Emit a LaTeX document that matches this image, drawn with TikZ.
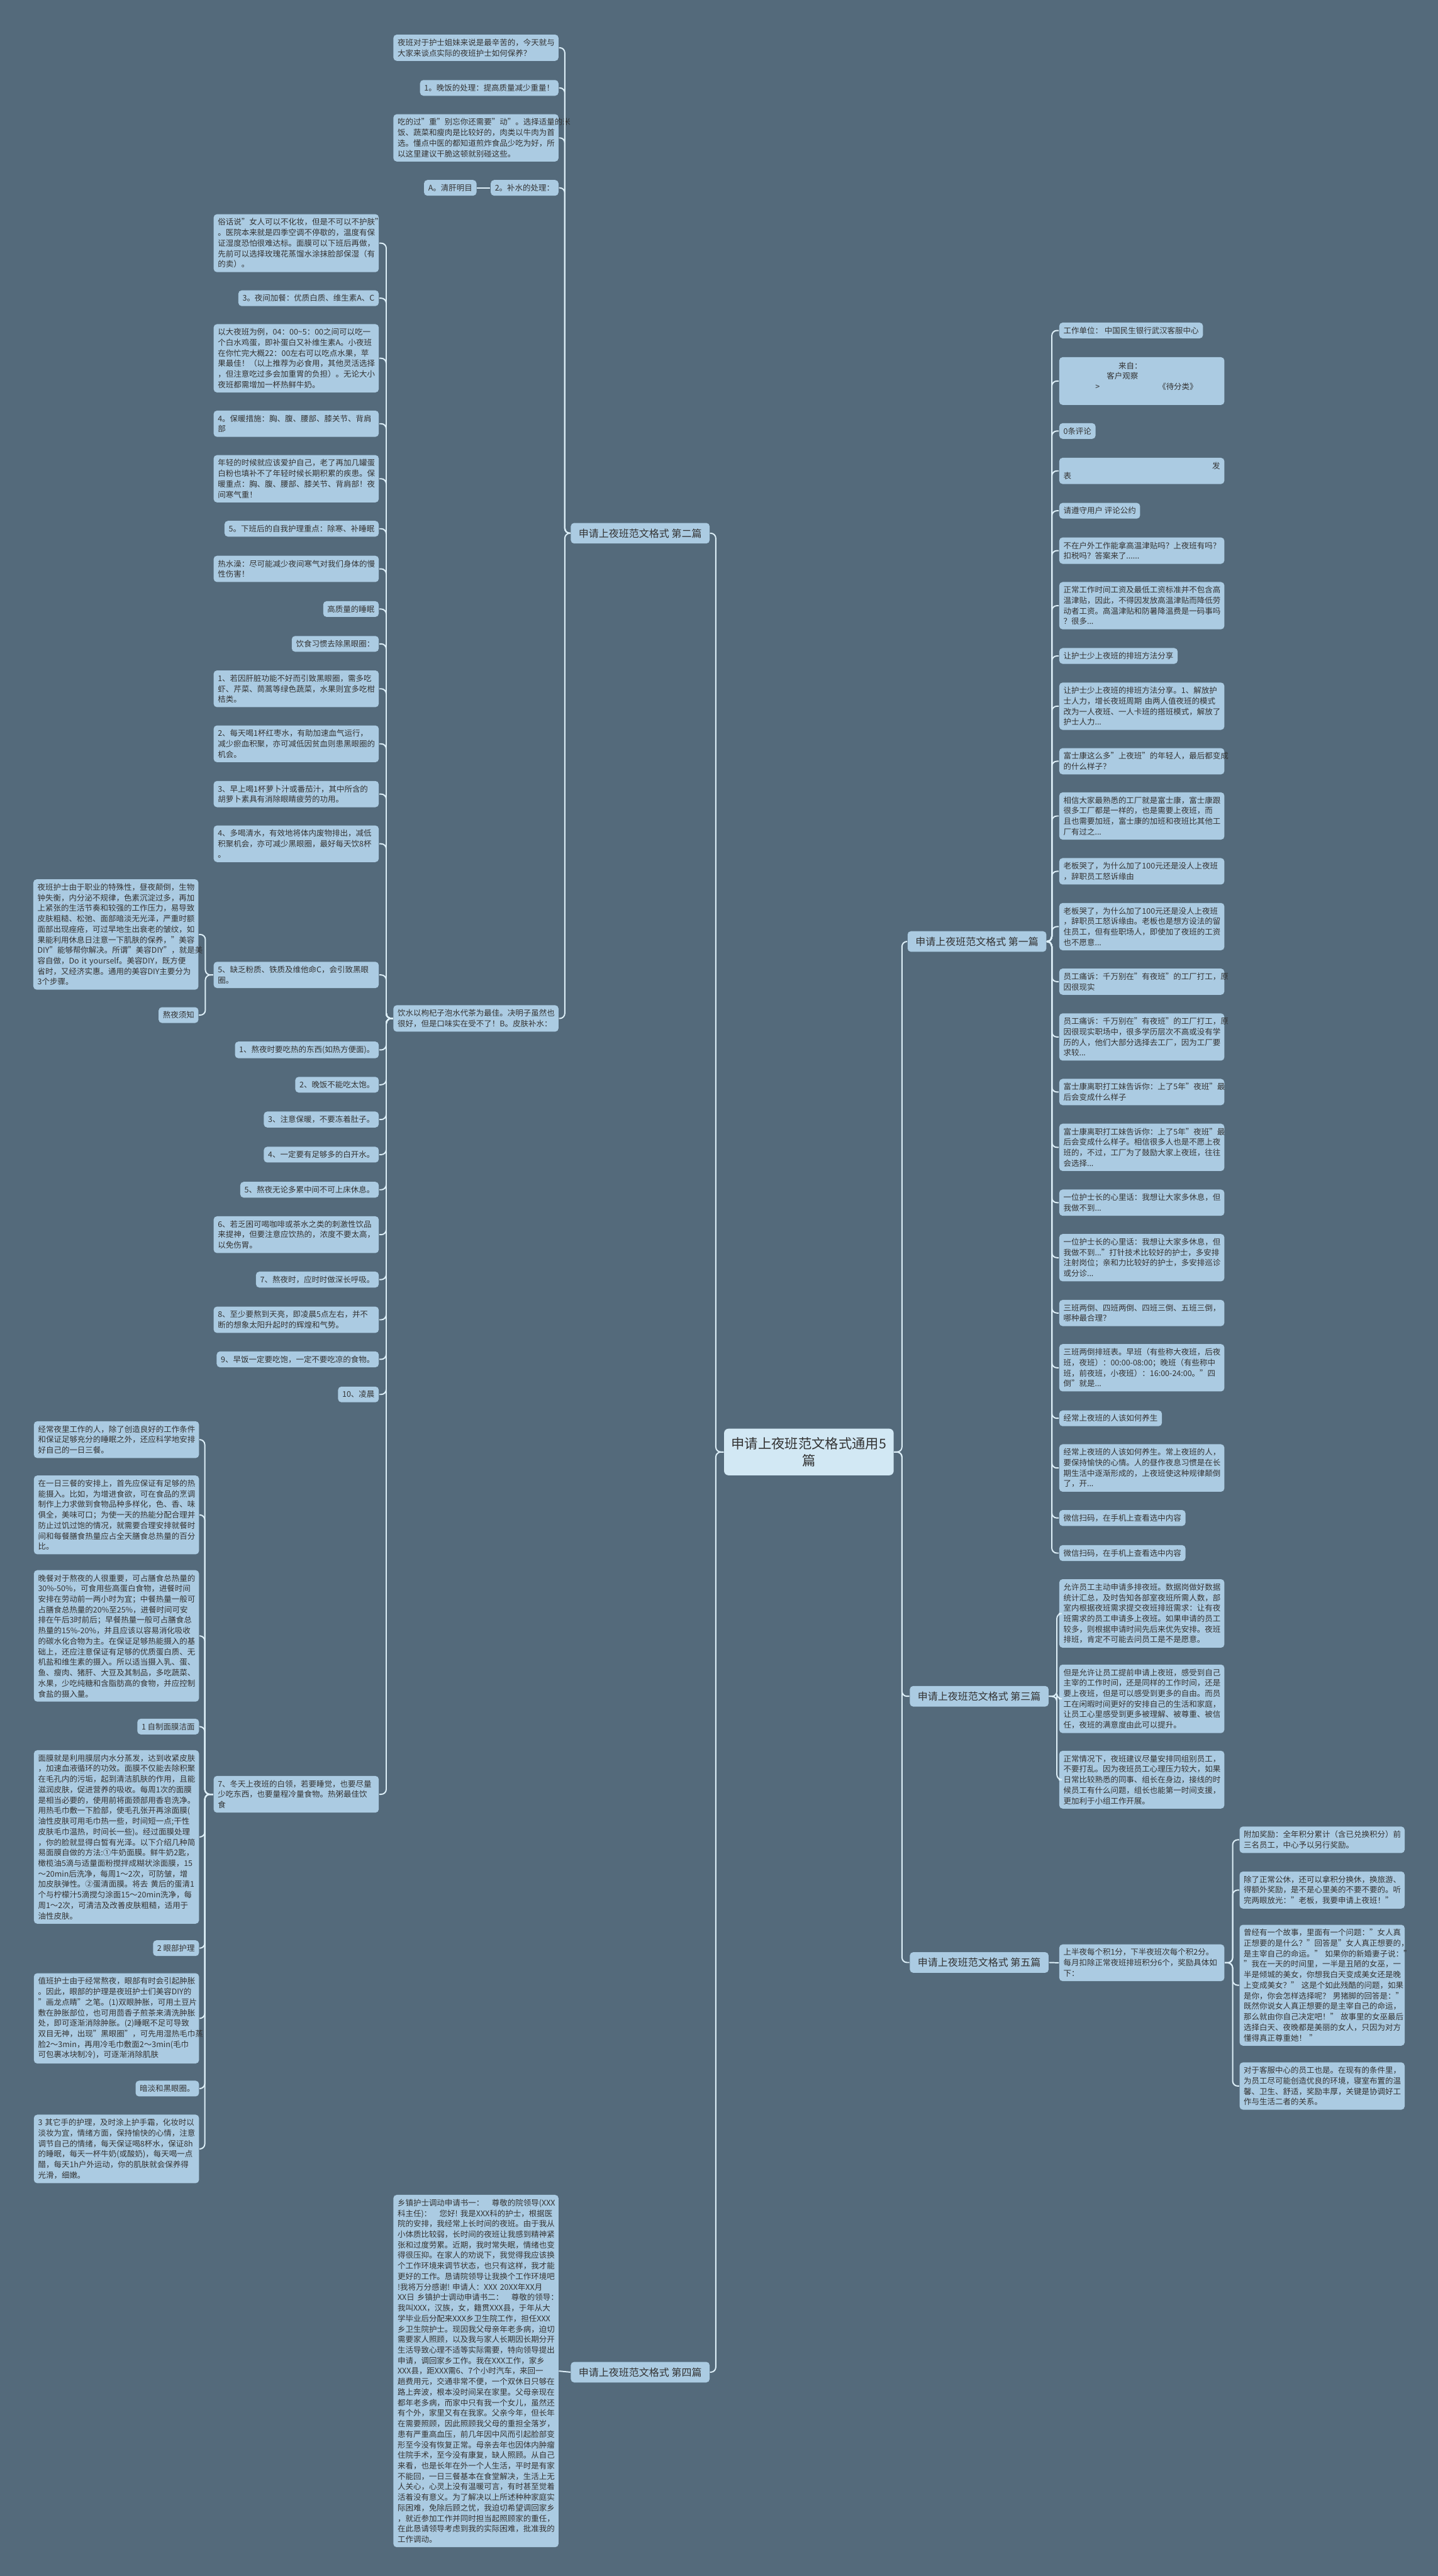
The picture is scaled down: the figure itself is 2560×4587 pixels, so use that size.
\documentclass[tikz,border=0pt]{standalone}
\usepackage{fontspec}
\setmainfont{Noto Sans CJK SC}
\usepackage{tikz}
\definecolor{slate}{HTML}{546A7B}
\definecolor{leafblue}{HTML}{ABCBE2}
\definecolor{rootblue}{HTML}{D2E8F4}
\definecolor{linkwhite}{HTML}{DDEFF8}
\definecolor{ink}{HTML}{333333}

\begin{document}
\begin{tikzpicture}[x=0.1mm,y=-0.1mm,
	leaf/.style={fill=leafblue,rounded corners=0.6mm,inner xsep=0.75mm,inner ysep=0.75mm,text=ink,align=left,font=\fontsize{3.98}{5.33}\selectfont},
	wide/.style={leaf,text width=27.9mm},
	branch/.style={fill=leafblue,rounded corners=0.6mm,inner xsep=1.4mm,inner ysep=1mm,text=ink,font=\fontsize{5.1}{6.5}\selectfont},
	root/.style={fill=rootblue,rounded corners=0.8mm,inner xsep=0.8mm,inner ysep=1.5mm,text=ink,text width=28.6mm,align=center,font=\fontsize{6.8}{8.8}\selectfont},
	link/.style={draw=linkwhite,line width=0.22mm,rounded corners=0.9mm}]
		\useasboundingbox (0,0) rectangle (2560,4587);
		\fill[slate] (0,0) rectangle (2560,4587);
		%\node[root] (name) at (x,y) {texte};
		\node[root] (Root) at (1440,2585.5) {申请上夜班范文格式通用5\\篇};
		\node[branch,anchor=east] (PartTwo) at (1264,949.5) {申请上夜班范文格式 第二篇};
		\node[branch,anchor=east] (PartFour) at (1264,4224) {申请上夜班范文格式 第四篇};
		\node[branch,anchor=west] (PartOne) at (1615,1676.5) {申请上夜班范文格式 第一篇};
		\node[branch,anchor=west] (PartThree) at (1619,3020.5) {申请上夜班范文格式 第三篇};
		\node[branch,anchor=west] (PartFive) at (1619,3494.5) {申请上夜班范文格式 第五篇};
		% second part
		\node[wide,anchor=east] (Intro) at (995,85) {夜班对于护士姐妹来说是最辛苦的，今天就与\\大家来谈点实际的夜班护士如何保养？};
		\node[leaf,anchor=east] (Supper) at (995,156.5) {1。晚饭的处理：提高质量减少重量！};
		\node[wide,anchor=east] (Move) at (995,245.5) {吃的过"重"别忘你还需要"动"。选择适量的米\\饭、蔬菜和瘦肉是比较好的，肉类以牛肉为首\\选。懂点中医的都知道煎炸食品少吃为好，所\\以这里建议干脆这顿就别碰这些。};
		\node[leaf,anchor=east] (Water) at (995,334.5) {2。补水的处理：};
		\node[leaf,anchor=east] (Liver) at (849,334.5) {A。清肝明目};
		\node[wide,anchor=east] (Tea) at (995,1813.5) {饮水以枸杞子泡水代茶为最佳。决明子虽然也\\很好，但是口味实在受不了！B。皮肤补水：};
		\node[wide,anchor=east] (Skin) at (675,433) {俗话说"女人可以不化妆，但是不可以不护肤"\\。医院本来就是四季空调不停歇的，温度有保\\证湿度恐怕很难达标。面膜可以下班后再做，\\先前可以选择玫瑰花蒸馏水涂抹脸部保湿（有\\的卖）。};
		\node[leaf,anchor=east] (Snack) at (675,531) {3。夜间加餐：优质白质、维生素A、C};
		\node[wide,anchor=east] (Egg) at (675,638) {以大夜班为例，04：00\textasciitilde5：00之间可以吃一\\个白水鸡蛋，即补蛋白又补维生素A。小夜班\\在你忙完大概22：00左右可以吃点水果，苹\\果最佳！（以上推荐为必食用，其他灵活选择\\，但注意吃过多会加重胃的负担）。无论大小\\夜班都需增加一杯热鲜牛奶。};
		\node[wide,anchor=east] (Warm) at (675,754.5) {4。保暖措施：胸、腹、腰部、膝关节、背肩\\部};
		\node[wide,anchor=east] (Young) at (675,852.5) {年轻的时候就应该爱护自己，老了再加几罐蛋\\白粉也填补不了年轻时候长期积累的疾患。保\\暖重点：胸、腹、腰部、膝关节、背肩部！夜\\间寒气重！};
		\node[leaf,anchor=east] (AfterWork) at (675,941.5) {5。下班后的自我护理重点：除寒、补睡眠};
		\node[wide,anchor=east] (Bath) at (675,1013) {热水澡：尽可能减少夜间寒气对我们身体的慢\\性伤害！};
		\node[leaf,anchor=east] (Sleep) at (675,1084.5) {高质量的睡眠};
		\node[leaf,anchor=east] (DarkCircle) at (675,1146.5) {饮食习惯去除黑眼圈：};
		\node[wide,anchor=east] (TipOne) at (675,1226.5) {1、若因肝脏功能不好而引致黑眼圈，需多吃\\虾、芹菜、茼蒿等绿色蔬菜，水果则宜多吃柑\\桔类。};
		\node[wide,anchor=east] (TipTwo) at (675,1324.5) {2、每天喝1杯红枣水，有助加速血气运行，\\减少瘀血积聚，亦可减低因贫血则患黑眼圈的\\机会。};
		\node[wide,anchor=east] (TipThree) at (675,1414) {3、早上喝1杯萝卜汁或番茄汁，其中所含的\\胡萝卜素具有消除眼睛疲劳的功用。};
		\node[wide,anchor=east] (TipFour) at (675,1502.5) {4、多喝清水，有效地将体内废物排出，减低\\积聚机会，亦可减少黑眼圈，最好每天饮8杯\\。};
		\node[wide,anchor=east] (TipFive) at (675,1736) {5、缺乏粉质、铁质及维他命C，会引致黑眼\\圈。};
		\node[wide,anchor=east] (Beauty) at (354,1664) {夜班护士由于职业的特殊性，昼夜颠倒，生物\\钟失衡，内分泌不规律，色素沉淀过多，再加\\上紧张的生活节奏和较强的工作压力，易导致\\皮肤粗糙、松弛、面部暗淡无光泽，严重时额\\面部出现痤疮，可过早地生出衰老的皱纹，如\\果能利用休息日注意一下肌肤的保养，"美容\\DIY"能够帮你解决。所谓"美容DIY"，就是美\\容自做，Do~it~yourself。美容DIY，既方便\\省时，又经济实惠。通用的美容DIY主要分为\\3个步骤。};
		\node[leaf,anchor=east] (Notice) at (354,1807.5) {熬夜须知};
		\node[leaf,anchor=east] (NightOne) at (675,1869.5) {1、熬夜时要吃热的东西(如热方便面)。};
		\node[leaf,anchor=east] (NightTwo) at (675,1931.5) {2、晚饭不能吃太饱。};
		\node[leaf,anchor=east] (NightThree) at (675,1993.5) {3、注意保暖，不要冻着肚子。};
		\node[leaf,anchor=east] (NightFour) at (675,2056) {4、一定要有足够多的白开水。};
		\node[leaf,anchor=east] (NightFive) at (675,2118.5) {5、熬夜无论多累中间不可上床休息。};
		\node[wide,anchor=east] (NightSix) at (675,2198.5) {6、若乏困可喝咖啡或茶水之类的刺激性饮品\\来提神，但要注意应饮热的，浓度不要太高，\\以免伤胃。};
		\node[leaf,anchor=east] (NightSeven) at (675,2278.5) {7、熬夜时，应时时做深长呼吸。};
		\node[wide,anchor=east] (NightEight) at (675,2350) {8、至少要熬到天亮，即凌晨5点左右，并不\\断的想象太阳升起时的辉煌和气势。};
		\node[leaf,anchor=east] (NightNine) at (675,2420.5) {9、早饭一定要吃饱，一定不要吃凉的食物。};
		\node[leaf,anchor=east] (NightTen) at (675,2483) {10、凌晨};
		\node[wide,anchor=east] (WhiteCollar) at (675,3195) {7、冬天上夜班的白领，若要睡觉，也要尽量\\少吃东西，也要量程冷量食物。热粥最佳饮\\食};
		\node[wide,anchor=east] (Meals) at (355,2563.5) {经常夜里工作的人，除了创造良好的工作条件\\和保证足够充分的睡眠之外，还应科学地安排\\好自己的一日三餐。};
		\node[wide,anchor=east] (Calories) at (355,2697.5) {在一日三餐的安排上，首先应保证有足够的热\\能摄入。比如，为增进食欲，可在食品的烹调\\制作上力求做到食物品种多样化，色、香、味\\俱全，美味可口；为使一天的热能分配合理并\\防止过饥过饱的情况，就需要合理安排就餐时\\间和每餐膳食热量应占全天膳食总热量的百分\\比。};
		\node[wide,anchor=east] (Dinner) at (355,2913) {晚餐对于熬夜的人很重要，可占膳食总热量的\\30\%-50\%，可食用些高蛋白食物，进餐时间\\安排在劳动前一两小时为宜；中餐热量一般可\\占膳食总热量的20\%至25\%，进餐时间可安\\排在午后3时前后；早餐热量一般可占膳食总\\热量的15\%-20\%，并且应该以容易消化吸收\\的碳水化合物为主。在保证足够热能摄入的基\\础上，还应注意保证有足够的优质蛋白质、无\\机盐和维生素的摄入。所以适当摄入乳、蛋、\\鱼、瘦肉、猪肝、大豆及其制品，多吃蔬菜、\\水果，少吃纯糖和含脂肪高的食物，并应控制\\食盐的摄入量。};
		\node[leaf,anchor=east] (MaskTitle) at (355,3074.5) {1 自制面膜洁面};
		\node[wide,anchor=east] (Mask) at (355,3271) {面膜就是利用膜层内水分蒸发，达到收紧皮肤\\，加速血液循环的功效。面膜不仅能去除积聚\\在毛孔内的污垢，起到清洁肌肤的作用，且能\\滋润皮肤，促进营养的吸收。每周1次的面膜\\是相当必要的，使用前将面颈部用香皂洗净。\\用热毛巾敷一下脸部，使毛孔张开再涂面膜(\\油性皮肤可用毛巾热一些，时间短一点;干性\\皮肤毛巾温热，时间长一些)。经过面膜处理\\，你的脸就显得白皙有光泽。以下介绍几种简\\易面膜自做的方法:①牛奶面膜。鲜牛奶2匙，\\橄榄油5滴与适量面粉搅拌成糊状涂面膜，15\\～20min后洗净，每周1～2次，可防皱，增\\加皮肤弹性。②蛋清面膜。将去~黄后的蛋清1\\个与柠檬汁5滴搅匀涂面15～20min洗净，每\\周1～2次，可清洁及改善皮肤粗糙，适用于\\油性皮肤。};
		\node[leaf,anchor=east] (EyeTitle) at (355,3469) {2 眼部护理};
		\node[wide,anchor=east] (Eye) at (355,3594) {值班护士由于经常熬夜，眼部有时会引起肿胀\\。因此，眼部的护理是夜班护士们美容DIY的\\"画龙点睛"之笔。(1)双眼肿胀，可用土豆片\\敷在肿胀部位，也可用茴香子煎茶来清洗肿胀\\处，即可逐渐消除肿胀。(2)睡眠不足可导致\\双目无神，出现"黑眼圈"，可先用湿热毛巾蒸\\脸2～3min，再用冷毛巾敷面2～3min(毛巾\\可包裹冰块制冷)，可逐渐消除肌肤};
		\node[leaf,anchor=east] (Dull) at (355,3719) {暗淡和黑眼圈。};
		\node[wide,anchor=east] (Hands) at (355,3826.5) {3 其它手的护理，及时涂上护手霜，化妆时以\\淡妆为宜，情绪方面，保持愉快的心情，注意\\调节自己的情绪，每天保证喝8杯水，保证8h\\的睡眠，每天一杯牛奶(或酸奶)，每天喝一点\\醋，每天1h户外运动，你的肌肤就会保养得\\光滑，细嫩。};
		% fourth part
		\node[wide,anchor=east] (Transfer) at (995,4222) {乡镇护士调动申请书一：　尊敬的院领导(XXX\\科主任)：　您好!~我是XXX科的护士，根据医\\院的安排，我经常上长时间的夜班。由于我从\\小体质比较弱，长时间的夜班让我感到精神紧\\张和过度劳累。近期，我时常失眠，情绪也变\\得很压抑。在家人的劝说下，我觉得我应该换\\个工作环境来调节状态，也只有这样，我才能\\更好的工作。恳请院领导让我换个工作环境吧\\!我将万分感谢!~申请人：XXX~20XX年XX月\\XX日~乡镇护士调动申请书二：　尊敬的领导：\\我叫XXX，汉族，女，籍贯XXX县，于年从大\\学毕业后分配来XXX乡卫生院工作，担任XXX\\乡卫生院护士。现因我父母亲年老多病，迫切\\需要家人照顾，以及我与家人长期因长期分开\\生活导致心理不适等实际需要，特向领导提出\\申请，调回家乡工作。我在XXX工作，家乡\\XXX县，距XXX需6、7个小时汽车，来回一\\趟费用元，交通非常不便，一个双休日只够在\\路上奔波，根本没时间呆在家里。父母亲现在\\都年老多病，而家中只有我一个女儿，虽然还\\有个外，家里又有在我家。父亲今年，但长年\\在需要照顾，因此照顾我父母的重担全落岁，\\患有严重高血压，前几年因中风而引起脸部变\\形至今没有恢复正常。母亲去年也因体内肿瘤\\住院手术，至今没有康复，缺人照顾。从自己\\来看，也是长年在外一个人生活，平时是有家\\不能回，一日三餐基本在食堂解决，生活上无\\人关心，心灵上没有温暖可言，有时甚至觉着\\活着没有意义。为了解决以上所述种种家庭实\\际困难，免除后顾之忧，我迫切希望调回家乡\\，就近参加工作并同时担当起照顾家的重任，\\在此恳请领导考虑到我的实际困难，批准我的\\工作调动。};
		% first part
		\node[leaf,anchor=west] (WorkUnit) at (1885,588.5) {工作单位：~中国民生银行武汉客服中心};
		\node[wide,anchor=west,minimum height=8.5mm] (Source) at (1885,678.5) {\hspace*{9.8mm}来自：\\\hspace*{7.7mm}客户观察\\\hspace*{5.7mm}>\hspace*{10.4mm}《待分类》\\~};
		\node[leaf,anchor=west] (Comments) at (1885,767.5) {0条评论};
		\node[wide,anchor=west] (Publish) at (1885,838.5) {\hfill 发\\表};
		\node[leaf,anchor=west] (Rules) at (1885,909.5) {请遵守用户~评论公约};
		\node[wide,anchor=west] (Allowance) at (1885,980.5) {不在户外工作能拿高温津贴吗？上夜班有吗？\\扣税吗？答案来了......};
		\node[wide,anchor=west] (Wage) at (1885,1078.5) {正常工作时间工资及最低工资标准并不包含高\\温津贴，因此，不得因发放高温津贴而降低劳\\动者工资。高温津贴和防暑降温费是一码事吗\\？很多...};
		\node[leaf,anchor=west] (ShiftTip) at (1885,1168) {让护士少上夜班的排班方法分享};
		\node[wide,anchor=west] (ShiftText) at (1885,1257.5) {让护士少上夜班的排班方法分享。1、解放护\\士人力，增长夜班周期~由两人值夜班的模式\\改为一人夜班、一人卡班的搭班模式，解放了\\护士人力...};
		\node[wide,anchor=west] (Foxconn) at (1885,1355.5) {富士康这么多"上夜班"的年轻人，最后都变成\\的什么样子？};
		\node[wide,anchor=west] (FoxconnText) at (1885,1453) {相信大家最熟悉的工厂就是富士康，富士康跟\\很多工厂都是一样的，也是需要上夜班，而\\且也需要加班，富士康的加班和夜班比其他工\\厂有过之...};
		\node[wide,anchor=west] (Boss) at (1885,1551.5) {老板哭了，为什么加了100元还是没人上夜班\\，辞职员工怒诉缘由};
		\node[wide,anchor=west] (BossText) at (1885,1650) {老板哭了，为什么加了100元还是没人上夜班\\，辞职员工怒诉缘由。老板也是想方设法的留\\住员工，但有些职场人，即使加了夜班的工资\\也不愿意...};
		\node[wide,anchor=west] (Factory) at (1885,1748) {员工痛诉：千万别在"有夜班"的工厂打工，原\\因很现实};
		\node[wide,anchor=west] (FactoryText) at (1885,1846.5) {员工痛诉：千万别在"有夜班"的工厂打工，原\\因很现实职场中，很多学历层次不高或没有学\\历的人，他们大部分选择去工厂，因为工厂要\\求较...};
		\node[wide,anchor=west] (Sister) at (1885,1944.5) {富士康离职打工妹告诉你：上了5年"夜班"最\\后会变成什么样子};
		\node[wide,anchor=west] (SisterText) at (1885,2043) {富士康离职打工妹告诉你：上了5年"夜班"最\\后会变成什么样子。相信很多人也是不愿上夜\\班的，不过，工厂为了鼓励大家上夜班，往往\\会选择...};
		\node[wide,anchor=west] (HeadNurse) at (1885,2141.5) {一位护士长的心里话：我想让大家多休息，但\\我做不到...};
		\node[wide,anchor=west] (HeadNurseText) at (1885,2239.5) {一位护士长的心里话：我想让大家多休息，但\\我做不到..."打针技术比较好的护士，多安排\\注射岗位；亲和力比较好的护士，多安排巡诊\\或分诊...};
		\node[wide,anchor=west] (Rotation) at (1885,2338) {三班两倒、四班两倒、四班三倒、五班三倒，\\哪种最合理？};
		\node[wide,anchor=west] (RotationText) at (1885,2435.5) {三班两倒排班表。早班（有些称大夜班，后夜\\班，夜班）：00:00-08:00；晚班（有些称中\\班，前夜班，小夜班）：16:00-24:00。"四\\倒"就是...};
		\node[leaf,anchor=west] (Health) at (1885,2525.5) {经常上夜班的人该如何养生};
		\node[wide,anchor=west] (HealthText) at (1885,2614) {经常上夜班的人该如何养生。常上夜班的人，\\要保持愉快的心情。人的昼作夜息习惯是在长\\期生活中逐渐形成的，上夜班使这种规律颠倒\\了，开...};
		\node[leaf,anchor=west] (ScanOne) at (1885,2703) {微信扫码，在手机上查看选中内容};
		\node[leaf,anchor=west] (ScanTwo) at (1885,2765.5) {微信扫码，在手机上查看选中内容};
		% third part
		\node[wide,anchor=west] (Volunteer) at (1885,2873) {允许员工主动申请多排夜班。数据岗做好数据\\统计汇总，及时告知各部室夜班所需人数，部\\室内根据夜班需求提交夜班排班需求：让有夜\\班需求的员工申请多上夜班。如果申请的员工\\较多，则根据申请时间先后来优先安排。夜班\\排班，肯定不可能去问员工是不是愿意。};
		\node[wide,anchor=west] (Freedom) at (1885,3025) {但是允许让员工提前申请上夜班，感受到自己\\主宰的工作时间，还是同样的工作时间，还是\\要上夜班，但是可以感受到更多的自由。而员\\工在闲暇时间更好的安排自己的生活和家庭，\\让员工心里感受到更多被理解、被尊重、被信\\任，夜班的满意度由此可以提升。};
		\node[wide,anchor=west] (SameGroup) at (1885,3169) {正常情况下，夜班建议尽量安排同组别员工，\\不要打乱。因为夜班员工心理压力较大，如果\\日常比较熟悉的同事、组长在身边，接线的时\\候员工有什么问题，组长也能第一时间支援，\\更加利于小组工作开展。};
		% fifth part
		\node[wide,anchor=west] (Points) at (1885,3495) {上半夜每个积1分，下半夜班次每个积2分。\\每月扣除正常夜班排班积分6个，奖励具体如\\下：};
		\node[wide,anchor=west] (Bonus) at (2206,3276) {附加奖励：全年积分累计（含已兑换积分）前\\三名员工，中心予以另行奖励。};
		\node[wide,anchor=west] (Holiday) at (2206,3365.5) {除了正常公休，还可以拿积分换休，换旅游、\\得额外奖励，是不是心里美的不要不要的。听\\完两眼放光："老板，我要申请上夜班！"};
		\node[wide,anchor=west] (Story) at (2206,3535) {曾经有一个故事，里面有一个问题："女人真\\正想要的是什么？"回答是"女人真正想要的，\\是主宰自己的命运。"~如果你的新婚妻子说："\\"我在一天的时间里，一半是丑陋的女巫，一\\半是倾城的美女，你想我白天变成美女还是晚\\上变成美女？"~这是个如此残酷的问题，如果\\是你，你会怎样选择呢？~男猪脚的回答是："\\既然你说女人真正想要的是主宰自己的命运，\\那么就由你自己决定吧！"~故事里的女巫最后\\选择白天、夜晚都是美丽的女人，只因为对方\\懂得真正尊重她！~"};
		\node[wide,anchor=west] (Service) at (2206,3714.5) {对于客服中心的员工也是。在现有的条件里，\\为员工尽可能创造优良的环境，寝室布置的温\\馨、卫生、舒适，奖励丰厚，关键是协调好工\\作与生活二者的关系。};
		% liens
		\draw[link] (Root.west) -- ++(-14,0) |- (PartTwo.east);
		\draw[link] (Root.west) -- ++(-14,0) |- (PartFour.east);
		\draw[link] (Root.east) -- ++(14,0) |- (PartOne.west);
		\draw[link] (Root.east) -- ++(14,0) |- (PartThree.west);
		\draw[link] (Root.east) -- ++(14,0) |- (PartFive.west);
		\draw[link] (PartTwo.west) -- ++(-10,0) |- (Intro.east);
		\draw[link] (PartTwo.west) -- ++(-10,0) |- (Supper.east);
		\draw[link] (PartTwo.west) -- ++(-10,0) |- (Move.east);
		\draw[link] (PartTwo.west) -- ++(-10,0) |- (Water.east);
		\draw[link] (PartTwo.west) -- ++(-10,0) |- (Tea.east);
		\draw[link] (Water.west) -- (Liver.east);
		\draw[link] (Tea.west) -- ++(-12,0) |- (Skin.east);
		\draw[link] (Tea.west) -- ++(-12,0) |- (Snack.east);
		\draw[link] (Tea.west) -- ++(-12,0) |- (Egg.east);
		\draw[link] (Tea.west) -- ++(-12,0) |- (Warm.east);
		\draw[link] (Tea.west) -- ++(-12,0) |- (Young.east);
		\draw[link] (Tea.west) -- ++(-12,0) |- (AfterWork.east);
		\draw[link] (Tea.west) -- ++(-12,0) |- (Bath.east);
		\draw[link] (Tea.west) -- ++(-12,0) |- (Sleep.east);
		\draw[link] (Tea.west) -- ++(-12,0) |- (DarkCircle.east);
		\draw[link] (Tea.west) -- ++(-12,0) |- (TipOne.east);
		\draw[link] (Tea.west) -- ++(-12,0) |- (TipTwo.east);
		\draw[link] (Tea.west) -- ++(-12,0) |- (TipThree.east);
		\draw[link] (Tea.west) -- ++(-12,0) |- (TipFour.east);
		\draw[link] (Tea.west) -- ++(-12,0) |- (TipFive.east);
		\draw[link] (Tea.west) -- ++(-12,0) |- (NightOne.east);
		\draw[link] (Tea.west) -- ++(-12,0) |- (NightTwo.east);
		\draw[link] (Tea.west) -- ++(-12,0) |- (NightThree.east);
		\draw[link] (Tea.west) -- ++(-12,0) |- (NightFour.east);
		\draw[link] (Tea.west) -- ++(-12,0) |- (NightFive.east);
		\draw[link] (Tea.west) -- ++(-12,0) |- (NightSix.east);
		\draw[link] (Tea.west) -- ++(-12,0) |- (NightSeven.east);
		\draw[link] (Tea.west) -- ++(-12,0) |- (NightEight.east);
		\draw[link] (Tea.west) -- ++(-12,0) |- (NightNine.east);
		\draw[link] (Tea.west) -- ++(-12,0) |- (NightTen.east);
		\draw[link] (Tea.west) -- ++(-12,0) |- (WhiteCollar.east);
		\draw[link] (TipFive.west) -- ++(-14,0) |- (Beauty.east);
		\draw[link] (TipFive.west) -- ++(-14,0) |- (Notice.east);
		\draw[link] (WhiteCollar.west) -- ++(-15,0) |- (Meals.east);
		\draw[link] (WhiteCollar.west) -- ++(-15,0) |- (Calories.east);
		\draw[link] (WhiteCollar.west) -- ++(-15,0) |- (Dinner.east);
		\draw[link] (WhiteCollar.west) -- ++(-15,0) |- (MaskTitle.east);
		\draw[link] (WhiteCollar.west) -- ++(-15,0) |- (Mask.east);
		\draw[link] (WhiteCollar.west) -- ++(-15,0) |- (EyeTitle.east);
		\draw[link] (WhiteCollar.west) -- ++(-15,0) |- (Eye.east);
		\draw[link] (WhiteCollar.west) -- ++(-15,0) |- (Dull.east);
		\draw[link] (WhiteCollar.west) -- ++(-15,0) |- (Hands.east);
		\draw[link] (PartFour.west) -- (Transfer.east);
		\draw[link] (PartOne.east) -- ++(9,0) |- (WorkUnit.west);
		\draw[link] (PartOne.east) -- ++(9,0) |- (Source.west);
		\draw[link] (PartOne.east) -- ++(9,0) |- (Comments.west);
		\draw[link] (PartOne.east) -- ++(9,0) |- (Publish.west);
		\draw[link] (PartOne.east) -- ++(9,0) |- (Rules.west);
		\draw[link] (PartOne.east) -- ++(9,0) |- (Allowance.west);
		\draw[link] (PartOne.east) -- ++(9,0) |- (Wage.west);
		\draw[link] (PartOne.east) -- ++(9,0) |- (ShiftTip.west);
		\draw[link] (PartOne.east) -- ++(9,0) |- (ShiftText.west);
		\draw[link] (PartOne.east) -- ++(9,0) |- (Foxconn.west);
		\draw[link] (PartOne.east) -- ++(9,0) |- (FoxconnText.west);
		\draw[link] (PartOne.east) -- ++(9,0) |- (Boss.west);
		\draw[link] (PartOne.east) -- ++(9,0) |- (BossText.west);
		\draw[link] (PartOne.east) -- ++(9,0) |- (Factory.west);
		\draw[link] (PartOne.east) -- ++(9,0) |- (FactoryText.west);
		\draw[link] (PartOne.east) -- ++(9,0) |- (Sister.west);
		\draw[link] (PartOne.east) -- ++(9,0) |- (SisterText.west);
		\draw[link] (PartOne.east) -- ++(9,0) |- (HeadNurse.west);
		\draw[link] (PartOne.east) -- ++(9,0) |- (HeadNurseText.west);
		\draw[link] (PartOne.east) -- ++(9,0) |- (Rotation.west);
		\draw[link] (PartOne.east) -- ++(9,0) |- (RotationText.west);
		\draw[link] (PartOne.east) -- ++(9,0) |- (Health.west);
		\draw[link] (PartOne.east) -- ++(9,0) |- (HealthText.west);
		\draw[link] (PartOne.east) -- ++(9,0) |- (ScanOne.west);
		\draw[link] (PartOne.east) -- ++(9,0) |- (ScanTwo.west);
		\draw[link] (PartThree.east) -- ++(14,0) |- (Volunteer.west);
		\draw[link] (PartThree.east) -- ++(14,0) |- (Freedom.west);
		\draw[link] (PartThree.east) -- ++(14,0) |- (SameGroup.west);
		\draw[link] (PartFive.east) -- (Points.west);
		\draw[link] (Points.east) -- ++(14,0) |- (Bonus.west);
		\draw[link] (Points.east) -- ++(14,0) |- (Holiday.west);
		\draw[link] (Points.east) -- ++(14,0) |- (Story.west);
		\draw[link] (Points.east) -- ++(14,0) |- (Service.west);
	\end{tikzpicture}
\end{document}
